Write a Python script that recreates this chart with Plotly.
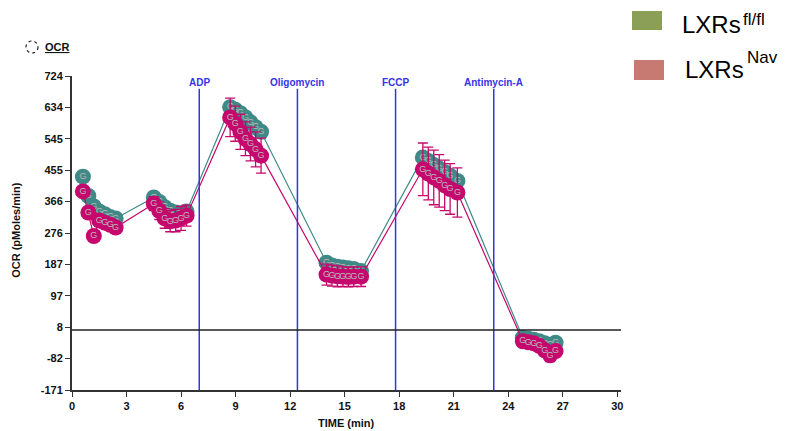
import plotly.graph_objects as go

# ---- data ----
time_min = [0.6, 0.9, 1.2, 1.5, 1.8, 2.1, 2.4,
            4.5, 4.8, 5.1, 5.4, 5.7, 6.0, 6.3,
            8.7, 8.98, 9.26, 9.54, 9.82, 10.1, 10.4,
            14.0, 14.3, 14.6, 14.9, 15.2, 15.5, 15.9,
            19.3, 19.6, 19.9, 20.2, 20.5, 20.8, 21.2,
            24.8, 25.1, 25.4, 25.7, 26.0, 26.3, 26.6]
ocr_flfl = [437, 382, 352, 338, 330, 322, 318,
            378, 365, 350, 340, 335, 333, 338,
            635, 628, 618, 606, 592, 578, 565,
            192, 184, 180, 178, 176, 174, 168,
            492, 482, 470, 460, 450, 440, 425,
            -22, -25, -28, -32, -38, -42, -36]
ocr_nav = [395, 335, 268, 312, 306, 300, 292,
           360, 340, 318, 310, 312, 318, 326,
           606, 588, 565, 545, 530, 515, 497,
           158, 155, 153, 152, 151, 152, 152,
           458, 446, 435, 425, 412, 402, 392,
           -32, -35, -38, -45, -58, -72, -60]
err_nav = [10, 10, 10, 12, 12, 14, 14,
           20, 25, 28, 30, 32, 34, 30,
           55, 50, 50, 48, 48, 50, 50,
           30, 30, 30, 28, 28, 28, 28,
           75, 75, 78, 75, 72, 72, 70,
           12, 12, 12, 14, 16, 18, 16]
injections = ["ADP", "Oligomycin", "FCCP", "Antimycin-A"]
injection_times = [7.0, 12.4, 17.8, 23.2]
ytick_vals = [-171, -81.5, 8, 97.5, 187, 276.5, 366, 455.5, 545, 634.5, 724]
ytick_text = ["-171", "-82", "8", "97", "187", "276", "366", "455", "545", "634", "724"]
xtick_vals = [0, 3, 6, 9, 12, 15, 18, 21, 24, 27, 30]
legend_base = ["LXRs", "LXRs"]
legend_sup = ["fl/fl", "Nav"]

teal = "#3f8a86"
magenta = "#c5086d"
blue = "#3434e6"

fig = go.Figure()
fig.add_trace(go.Scatter(
    x=time_min, y=ocr_flfl, mode="lines+markers+text", text=["G"] * len(time_min),
    textposition="middle center", textfont=dict(color="#b8b8b8", size=9, family="Arial Black, Arial"),
    line=dict(color=teal, width=1.2), marker=dict(color=teal, size=16),
    showlegend=False, cliponaxis=False))
fig.add_trace(go.Scatter(
    x=time_min, y=ocr_nav, mode="lines+markers+text", text=["G"] * len(time_min),
    textposition="middle center", textfont=dict(color="#b8b8b8", size=9, family="Arial Black, Arial"),
    line=dict(color=magenta, width=1.2), marker=dict(color=magenta, size=16),
    error_y=dict(type="data", array=err_nav, color=magenta, thickness=1.3, width=5),
    showlegend=False, cliponaxis=False))

shapes = []
annotations = []
for name, t in zip(injections, injection_times):
    shapes.append(dict(type="line", xref="x", yref="y", x0=t, x1=t, y0=-171, y1=688,
                       line=dict(color=blue, width=1.5)))
    annotations.append(dict(x=t, y=706, xref="x", yref="y", text="<b>" + name + "</b>",
                            showarrow=False, font=dict(color=blue, size=10, family="Arial")))
shapes.append(dict(type="line", xref="x", yref="y", x0=0, x1=30.2, y0=0, y1=0,
                   line=dict(color="#222222", width=1.5)))
# OCR header circle
shapes.append(dict(type="circle", xref="paper", yref="paper", xsizemode="pixel", ysizemode="pixel",
                   xanchor=0, yanchor=1, x0=-46, x1=-34, y0=23, y1=35,
                   line=dict(color="#222222", width=1.2, dash="dot")))
# legend squares
shapes.append(dict(type="rect", xref="paper", yref="paper", xsizemode="pixel", ysizemode="pixel",
                   xanchor=1, yanchor=1, x0=11, x1=41, y0=46, y1=65,
                   fillcolor="#8c9f57", line=dict(width=0)))
shapes.append(dict(type="rect", xref="paper", yref="paper", xsizemode="pixel", ysizemode="pixel",
                   xanchor=1, yanchor=1, x0=13, x1=43, y0=-4, y1=16,
                   fillcolor="#c77a72", line=dict(width=0)))

annotations += [
    dict(x=0, y=1, xref="paper", yref="paper", xshift=-15, yshift=29, text="<b><u>OCR</u></b>",
         showarrow=False, font=dict(size=11, family="Arial", color="#111111"), xanchor="center", yanchor="middle"),
    dict(x=0, y=0.51, xref="paper", yref="paper", xshift=-64, text="<b>OCR (pMoles/min)</b>",
         textangle=-90, showarrow=False, font=dict(size=11, family="Arial", color="#111111")),
    dict(x=0.5, y=0, xref="paper", yref="paper", yshift=-33, xshift=0, text="<b>TIME (min)</b>",
         showarrow=False, font=dict(size=11, family="Arial", color="#111111"), yanchor="middle"),
]
legend_pos = [(59, 52, 120, 57), (62, 7, 124, 19)]
for base, sup, (bx, by, sx, sy) in zip(legend_base, legend_sup, legend_pos):
    annotations.append(dict(x=1, y=1, xref="paper", yref="paper", xshift=bx, yshift=by,
                            xanchor="left", yanchor="middle", text=base, showarrow=False,
                            font=dict(size=24, family="Arial", color="#000000")))
    annotations.append(dict(x=1, y=1, xref="paper", yref="paper", xshift=sx, yshift=sy,
                            xanchor="left", yanchor="middle", text=sup, showarrow=False,
                            font=dict(size=17, family="Arial", color="#000000")))

# page body has an 8px margin, so the figure is offset by 8px
fig.update_layout(
    width=781, height=423,
    margin=dict(l=64, r=168, t=68, b=41),
    paper_bgcolor="white", plot_bgcolor="white",
    shapes=shapes, annotations=annotations,
    font=dict(family="Arial", color="#111111"),
    xaxis=dict(range=[0, 30.2], tickvals=xtick_vals, ticktext=[f"<b>{v}</b>" for v in xtick_vals],
               showgrid=False, zeroline=False, showline=True, linecolor="#333333", linewidth=2,
               ticks="outside", ticklen=5, tickcolor="#333333", tickfont=dict(size=11)),
    yaxis=dict(range=[-171, 724], tickvals=ytick_vals, ticktext=[f"<b>{t}</b>" for t in ytick_text],
               showgrid=False, zeroline=False, showline=True, linecolor="#333333", linewidth=2,
               ticks="outside", ticklen=5, tickcolor="#333333", tickfont=dict(size=11)),
)

fig.write_html("out.html")
